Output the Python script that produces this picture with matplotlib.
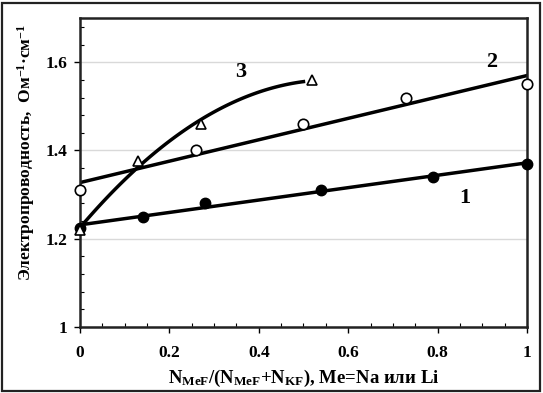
import numpy as np
import matplotlib
matplotlib.use("Agg")
import matplotlib.pyplot as plt
from matplotlib.ticker import MultipleLocator, FuncFormatter
from matplotlib.patches import Rectangle

# Series 1: filled circles
x1 = [0.0, 0.14, 0.28, 0.54, 0.79, 1.0]
y1 = [1.225, 1.25, 1.28, 1.31, 1.34, 1.37]
# Series 2: open circles
x2 = [0.0, 0.26, 0.50, 0.73, 1.0]
y2 = [1.31, 1.40, 1.46, 1.52, 1.55]
# Series 3: open triangles
x3 = [0.0, 0.13, 0.27, 0.52]
y3 = [1.22, 1.375, 1.46, 1.56]

xticks = [0, 0.2, 0.4, 0.6, 0.8, 1.0]
yticks = [1.0, 1.2, 1.4, 1.6]

plt.rcParams['font.family'] = ['Liberation Serif', 'DejaVu Serif']
plt.rcParams['font.weight'] = 'bold'
plt.rcParams['mathtext.fontset'] = 'custom'
plt.rcParams['mathtext.rm'] = 'Liberation Serif:bold'
plt.rcParams['mathtext.bf'] = 'Liberation Serif:bold'
plt.rcParams['mathtext.it'] = 'Liberation Serif:bold'

fig = plt.figure(figsize=(5.43, 3.93), dpi=100)
ax = fig.add_axes([0.1473, 0.168, 0.8232, 0.786])

# Trend lines
c1 = np.polyfit(x1, y1, 1)
xx = np.linspace(0, 1, 100)
ax.plot(xx, np.polyval(c1, xx), color='black', lw=2.5, zorder=2)
c2 = np.polyfit(x2, y2, 1)
ax.plot(xx, np.polyval(c2, xx), color='black', lw=2.5, zorder=2)
c3 = np.polyfit(x3, y3, 2)
xx3 = np.linspace(0, 0.5, 100)
ax.plot(xx3, np.polyval(c3, xx3), color='black', lw=2.5, zorder=2)

ax.plot(x1, y1, 'o', ms=7.5, mfc='black', mec='black', ls='none', zorder=3, clip_on=False)
ax.plot(x2, y2, 'o', ms=7.5, mfc='white', mec='black', mew=1.2, ls='none', zorder=3, clip_on=False)
ax.plot(x3, y3, '^', ms=7.5, mfc='white', mec='black', mew=1.2, ls='none', zorder=3, clip_on=False)

ax.text(0.86, 1.292, '1', fontsize=16, fontweight='bold', ha='center', va='center')
ax.text(0.92, 1.60, '2', fontsize=16, fontweight='bold', ha='center', va='center')
ax.text(0.36, 1.578, '3', fontsize=16, fontweight='bold', ha='center', va='center')

ax.set_xlim(0, 1)
ax.set_ylim(1.0, 1.7)
ax.set_xticks(xticks)
ax.set_yticks(yticks)
ax.xaxis.set_minor_locator(MultipleLocator(0.05))
ax.yaxis.set_minor_locator(MultipleLocator(0.04))
fmt = FuncFormatter(lambda v, p: ('%g' % round(v, 2)))
ax.xaxis.set_major_formatter(fmt)
ax.yaxis.set_major_formatter(fmt)
ax.grid(axis='y', which='major', color='#d9d9d9', lw=1, zorder=0)
ax.set_axisbelow(True)

for s in ax.spines.values():
    s.set_linewidth(1.8)
    s.set_color('#222222')

ax.tick_params(axis='both', which='major', labelsize=12.5, width=1, length=4, direction='out')
ax.tick_params(axis='x', which='major', pad=9)
ax.tick_params(axis='y', which='major', pad=5)
ax.tick_params(axis='x', which='minor', width=0.8, length=3, direction='in')
ax.tick_params(axis='y', which='minor', width=0.8, length=3, direction='in')
for lab in ax.get_xticklabels() + ax.get_yticklabels():
    lab.set_fontweight('bold')

ax.set_xlabel(r'N$_{\mathregular{MeF}}$/(N$_{\mathregular{MeF}}$+N$_{\mathregular{KF}}$), Me=Na или Li',
              fontsize=13.5, fontweight='bold', labelpad=5)
ax.set_ylabel(r'Электропроводность,  Ом$^{\mathregular{-1}}$·см$^{\mathregular{-1}}$',
              fontsize=12.5, fontweight='bold')
ax.yaxis.set_label_coords(-0.096, 0.566)

fig.patches.append(Rectangle((2/543, 2/393), 538/543, 388/393, transform=fig.transFigure,
                             fill=False, edgecolor='#222222', lw=1.6))

fig.savefig('out.png', dpi=100)
